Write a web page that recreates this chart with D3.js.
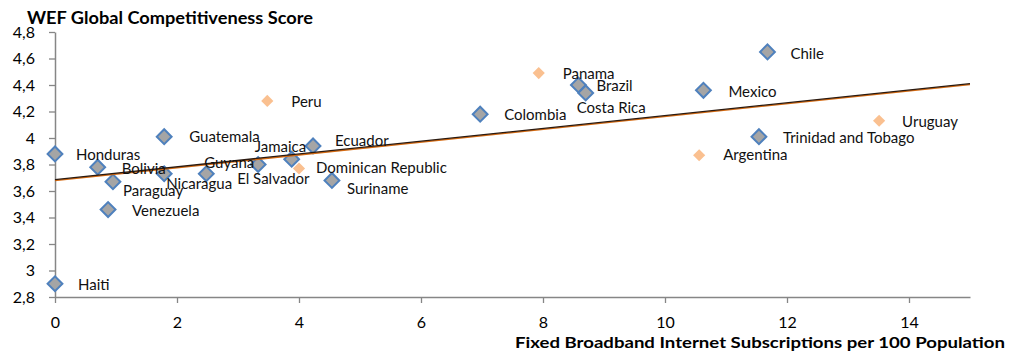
<!DOCTYPE html>
<html>
<head>
<meta charset="utf-8">
<script src="https://cdn.jsdelivr.net/npm/d3@7"></script>
<style>
  html, body { margin: 0; padding: 0; background: #fff; }
  svg { display: block; font-family: Lato, "Noto Sans", sans-serif; }
</style>
</head>
<body>
<svg id="chart" width="1009" height="352"></svg>
<script>
// Series 1: grey diamonds with blue outline
const blueCountries = ["Haiti", "Honduras", "Bolivia", "Paraguay", "Venezuela", "Guatemala",
  "Nicaragua", "Guyana", "El Salvador", "Jamaica", "Ecuador", "Suriname", "Colombia",
  "Brazil", "Costa Rica", "Mexico", "Chile", "Trinidad and Tobago"];
const blueBroadband = [0.0, 0.0, 0.70, 0.95, 0.87, 1.79, 1.79, 2.48, 3.33, 3.88, 4.23, 4.54,
  6.97, 8.58, 8.70, 10.63, 11.68, 11.54];
const blueScore = [2.90, 3.88, 3.78, 3.67, 3.46, 4.01, 3.73, 3.73, 3.80, 3.84, 3.94, 3.68,
  4.18, 4.40, 4.34, 4.36, 4.65, 4.01];

// Series 2: small light-orange diamonds
const orangeCountries = ["Peru", "Dominican Republic", "Panama", "Argentina", "Uruguay"];
const orangeBroadband = [3.48, 4.00, 7.93, 10.56, 13.51];
const orangeScore = [4.28, 3.77, 4.49, 3.87, 4.13];

// Linear trend line end points
const trendX = [0, 15];
const trendY = [3.686, 4.411];

// Axis ticks
const xTicks = [0, 2, 4, 6, 8, 10, 12, 14];
const yTicks = [2.8, 3.0, 3.2, 3.4, 3.6, 3.8, 4.0, 4.2, 4.4, 4.6, 4.8];

const xTitle = "Fixed Broadband Internet Subscriptions per 100 Population";
const yTitle = "WEF Global Competitiveness Score";

// Label placement tweaks (pixels, relative to the default spot right of the marker)
const labelNudge = {
  "Haiti": [1, 1], "Honduras": [-1, 1], "Bolivia": [2, 2], "Paraguay": [-12, 9],
  "Venezuela": [2, 1], "Guatemala": [3, 0], "Nicaragua": [-20, 10], "Guyana": [-24, -11],
  "El Salvador": [-43, 14], "Jamaica": [-59, -12], "Ecuador": [0, -5],
  "Dominican Republic": [-5, -1], "Suriname": [-7, 8], "Peru": [2, 1], "Colombia": [2, 1],
  "Panama": [2, 1], "Brazil": [-4, 1], "Costa Rica": [-31, 15], "Mexico": [3, 1],
  "Chile": [1, 2], "Trinidad and Tobago": [2, 1], "Argentina": [2, 0], "Uruguay": [1, 1]
};

const svg = d3.select("#chart");
const x = d3.scaleLinear().domain([0, 15]).range([55, 970]);
const y = d3.scaleLinear().domain([2.8, 4.8]).range([297, 32]);
const axisColor = "#868686";
const commaFmt = v => d3.format(".1f")(v).replace(".", ",").replace(/,0$/, "");

// Y axis
const gy = svg.append("g")
  .attr("transform", `translate(${x(0)},0)`)
  .call(d3.axisLeft(y).tickValues(yTicks).tickSizeInner(6).tickSizeOuter(0).tickPadding(14)
    .tickFormat(commaFmt));
gy.selectAll("text").attr("font-size", 16).attr("fill", "#000").attr("font-family", "Lato, sans-serif");

// X axis
const gx = svg.append("g")
  .attr("transform", `translate(0,${y(2.8)})`)
  .call(d3.axisBottom(x).tickValues(xTicks).tickSizeInner(6).tickSizeOuter(0).tickPadding(14)
    .tickFormat(d3.format("d")));
gx.selectAll("text").attr("font-size", 16).attr("fill", "#000").attr("font-family", "Lato, sans-serif");

[gx, gy].forEach(g => {
  g.select(".domain").attr("stroke", axisColor).attr("stroke-width", 1.5);
  g.selectAll(".tick line").attr("stroke", axisColor).attr("stroke-width", 1.3);
});

// Axis titles
svg.append("text")
  .attr("x", 27).attr("y", 24)
  .attr("font-size", 16.5).attr("font-weight", "bold").attr("fill", "#000")
  .attr("textLength", 286).attr("lengthAdjust", "spacingAndGlyphs")
  .text(yTitle);
svg.append("text")
  .attr("x", 1005).attr("y", 348)
  .attr("text-anchor", "end")
  .attr("font-size", 15).attr("font-weight", "bold").attr("fill", "#000")
  .attr("textLength", 490).attr("lengthAdjust", "spacingAndGlyphs")
  .text(xTitle);

const blue = blueCountries.map((c, i) => ({ name: c, bx: blueBroadband[i], s: blueScore[i] }));
const orange = orangeCountries.map((c, i) => ({ name: c, bx: orangeBroadband[i], s: orangeScore[i] }));

const diamond = size => d3.symbol().type(d3.symbolSquare).size(size);

// Markers
svg.append("g").selectAll("path").data(orange).join("path")
  .attr("d", diamond(74)())
  .attr("transform", d => `translate(${x(d.bx)},${y(d.s)}) rotate(45)`)
  .attr("fill", "#fac090");

svg.append("g").selectAll("path").data(blue).join("path")
  .attr("d", diamond(110)())
  .attr("transform", d => `translate(${x(d.bx)},${y(d.s)}) rotate(45)`)
  .attr("fill", "#a5a5a5")
  .attr("stroke", "#4f81bd")
  .attr("stroke-width", 2);

// Trend line (orange under a dark stroke)
const trend = trendX.map((v, i) => [x(v), y(trendY[i])]);
svg.append("path").attr("d", d3.line()(trend))
  .attr("transform", "translate(0,0.9)")
  .attr("stroke", "#d46a12").attr("stroke-width", 1.6).attr("fill", "none");
svg.append("path").attr("d", d3.line()(trend))
  .attr("stroke", "#2a1a10").attr("stroke-width", 1.3).attr("fill", "none");

// Point labels
svg.append("g").selectAll("text").data(blue.concat(orange)).join("text")
  .attr("x", d => x(d.bx) + 22 + (labelNudge[d.name] || [0, 0])[0])
  .attr("y", d => y(d.s) + (labelNudge[d.name] || [0, 0])[1])
  .attr("dy", "0.35em")
  .attr("font-size", 15)
  .attr("fill", "#111")
  .text(d => d.name);
</script>
</body>
</html>
